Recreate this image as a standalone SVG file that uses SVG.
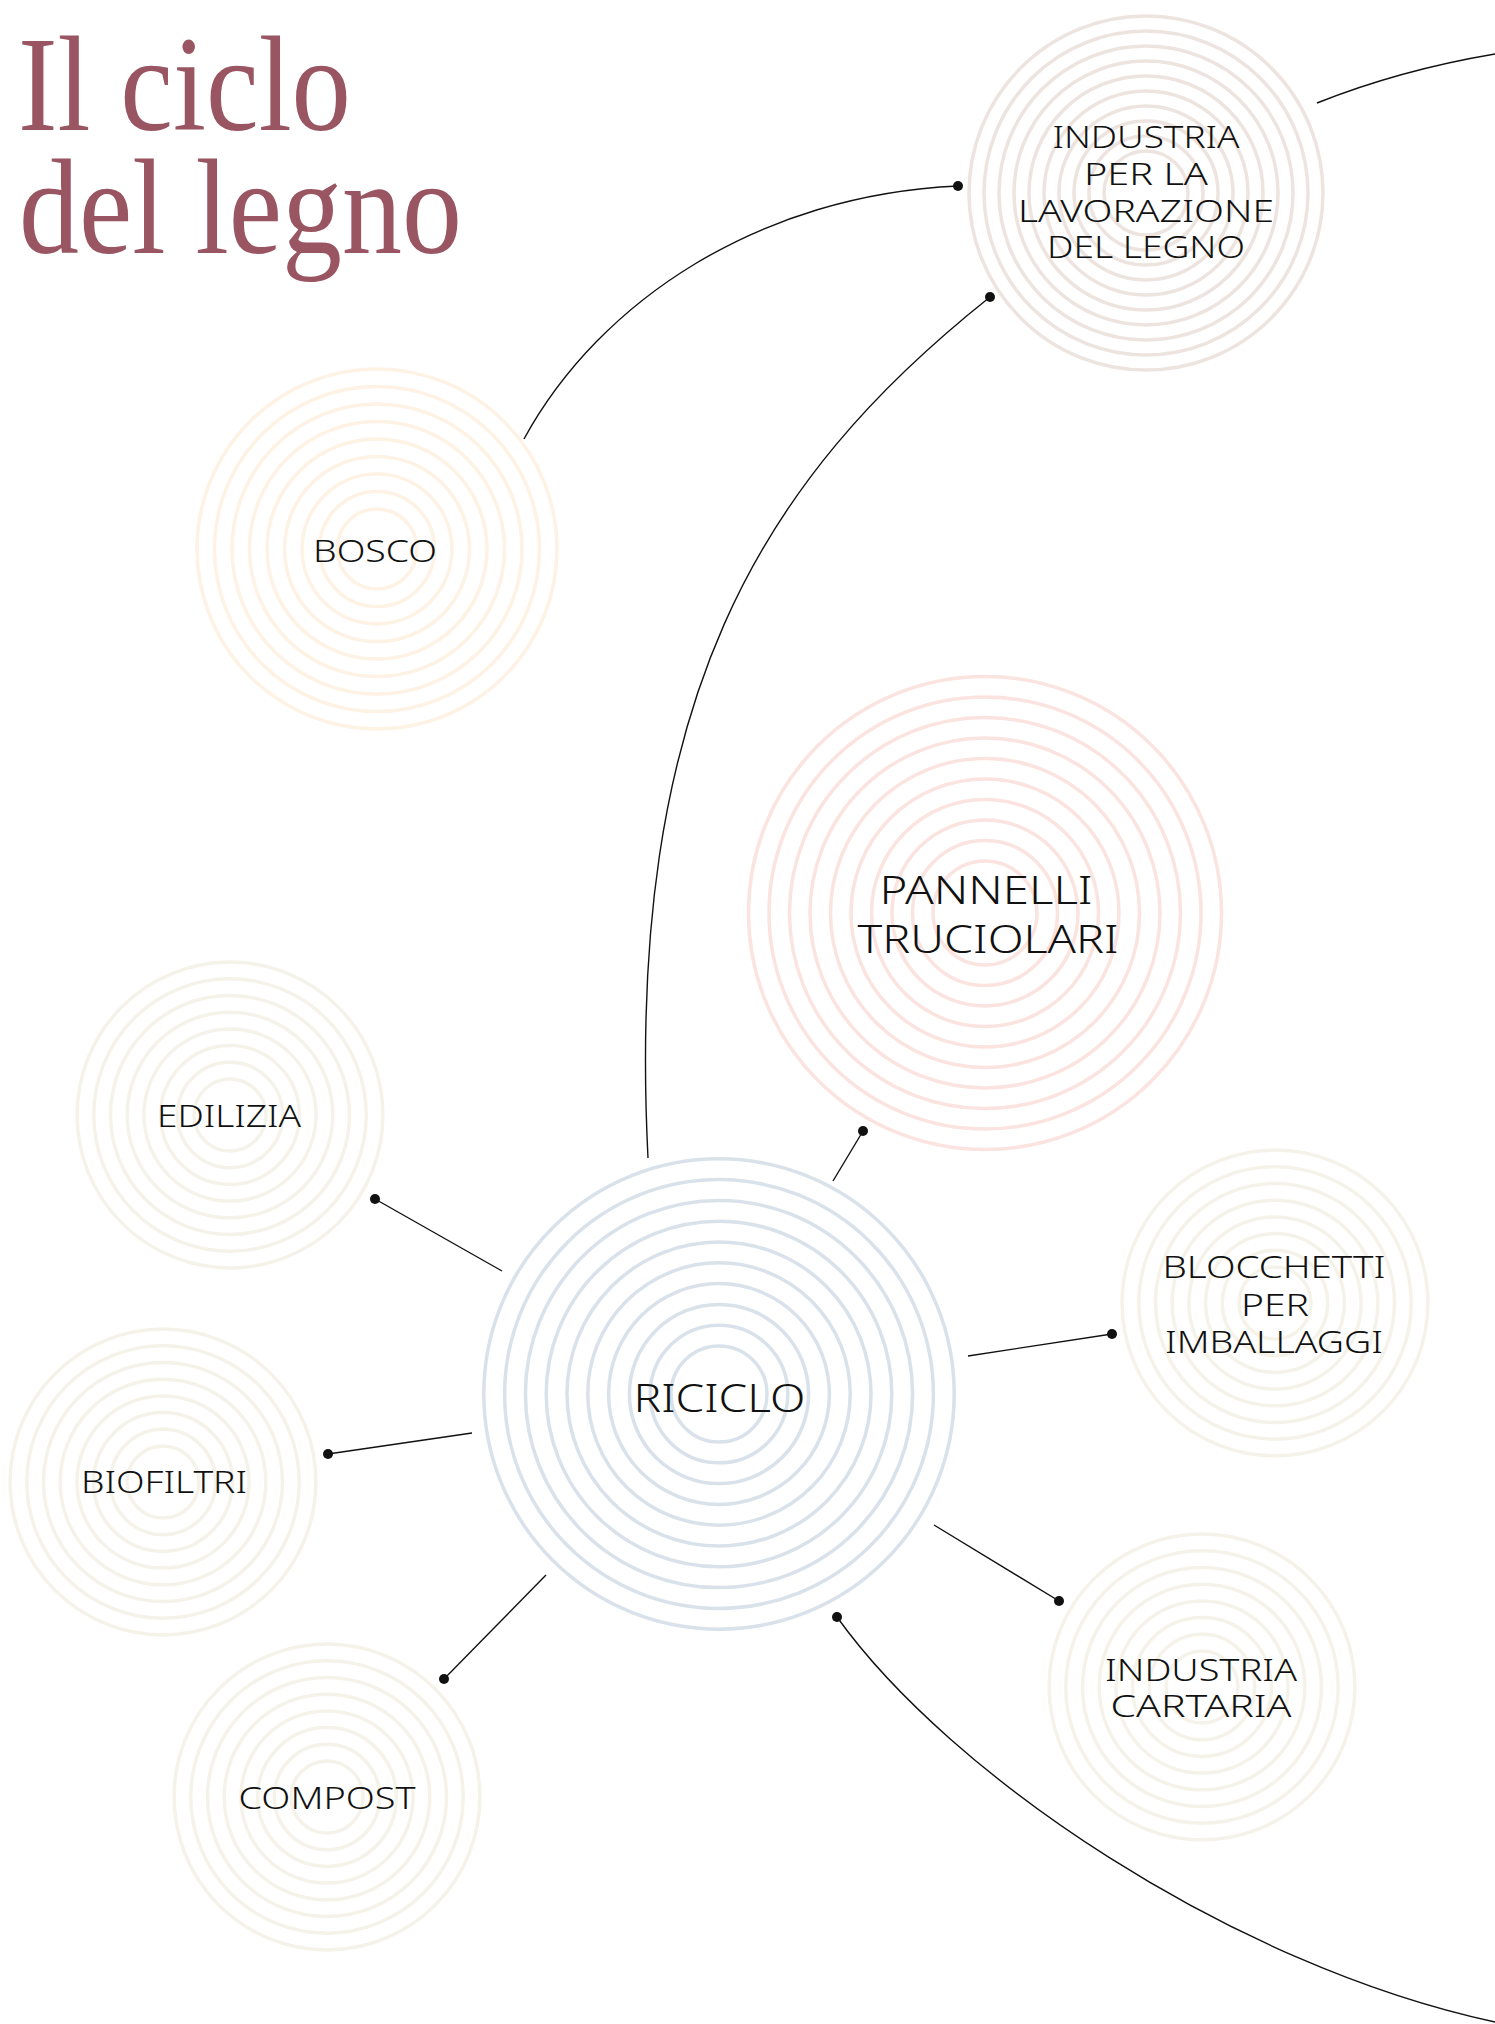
<svg xmlns="http://www.w3.org/2000/svg" xmlns:xlink="http://www.w3.org/1999/xlink" width="1495" height="2024" viewBox="0 0 1495 2024">
<style>
  .ring { fill: none; stroke-width: 3.5; }
  .r-ind { stroke: #ede4e0; }
  .r-bosco { stroke: #fdf2e4; }
  .r-pan { stroke: #fbe3df; }
  .r-ric { stroke: #d9e2ea; }
  .r-beige { stroke: #f5f3e9; }
  .lbl { font-family: "Noto Sans", "Open Sans", sans-serif; font-weight: 300; fill: #111111; text-anchor: middle; font-size: 31px; }
  .lbl-big { font-size: 39px; }
  .title { font-family: "Liberation Serif", "Times New Roman", serif; fill: #9a5563; font-size: 136px; }
  .conn { fill: none; stroke: #111111; stroke-width: 1.4; }
  .dot { fill: #111111; }
</style>
<defs>
  <g id="rings-ind">
    <circle r="42"/><circle r="57"/><circle r="72"/><circle r="87"/><circle r="102"/><circle r="117"/><circle r="132"/><circle r="147"/><circle r="162"/><circle r="177"/>
  </g>
  <g id="rings-bosco">
    <circle r="40"/><circle r="57.5"/><circle r="75"/><circle r="92.5"/><circle r="110"/><circle r="127.5"/><circle r="145"/><circle r="162.5"/><circle r="180"/>
  </g>
  <g id="rings-pan">
    <circle r="52"/><circle r="72.5"/><circle r="93"/><circle r="113.5"/><circle r="134"/><circle r="154.5"/><circle r="175"/><circle r="195.5"/><circle r="216"/><circle r="236.5"/>
  </g>
  <g id="rings-ric">
    <circle r="48"/><circle r="68.8"/><circle r="89.6"/><circle r="110.4"/><circle r="131.2"/><circle r="152"/><circle r="172.8"/><circle r="193.6"/><circle r="214.4"/><circle r="235.2"/>
  </g>
  <g id="rings-small">
    <circle r="36"/><circle r="52.7"/><circle r="69.4"/><circle r="86.1"/><circle r="102.8"/><circle r="119.5"/><circle r="136.2"/><circle r="152.9"/>
  </g>
</defs>
<rect width="1495" height="2024" fill="#ffffff"/>

<g id="title">
  <text class="title" x="18" y="130" textLength="333" lengthAdjust="spacingAndGlyphs">Il ciclo</text>
  <text class="title" x="19" y="253" textLength="443" lengthAdjust="spacingAndGlyphs">del legno</text>
</g>

<g id="connectors">
  <path class="conn" d="M 1317 103 Q 1400 70 1495 54"/>
  <path class="conn" d="M 524 439 C 600 300 760 195 958 186"/>
  <circle class="dot" cx="958" cy="186" r="5"/>
  <path class="conn" d="M 648 1158 C 625 700 760 480 990 297"/>
  <circle class="dot" cx="990" cy="297" r="5"/>
  <path class="conn" d="M 837 1617 C 950 1775 1230 1965 1495 2022"/>
  <circle class="dot" cx="837" cy="1617" r="5"/>
  <line class="conn" x1="833" y1="1181" x2="863" y2="1131"/>
  <circle class="dot" cx="863" cy="1131" r="5"/>
  <line class="conn" x1="502" y1="1271" x2="375" y2="1199"/>
  <circle class="dot" cx="375" cy="1199" r="5"/>
  <line class="conn" x1="472" y1="1433" x2="328" y2="1454"/>
  <circle class="dot" cx="328" cy="1454" r="5"/>
  <line class="conn" x1="546" y1="1575" x2="444" y2="1679"/>
  <circle class="dot" cx="444" cy="1679" r="5"/>
  <line class="conn" x1="968" y1="1356" x2="1112" y2="1334"/>
  <circle class="dot" cx="1112" cy="1334" r="5"/>
  <line class="conn" x1="934" y1="1525" x2="1059" y2="1601"/>
  <circle class="dot" cx="1059" cy="1601" r="5"/>
</g>

<g id="node-industria">
  <use xlink:href="#rings-ind" href="#rings-ind" class="ring r-ind" x="1146" y="193"/>
  <text class="lbl" x="1146" y="148" textLength="187" lengthAdjust="spacingAndGlyphs">INDUSTRIA</text>
  <text class="lbl" x="1146" y="185" textLength="124" lengthAdjust="spacingAndGlyphs">PER LA</text>
  <text class="lbl" x="1146" y="222" textLength="256" lengthAdjust="spacingAndGlyphs">LAVORAZIONE</text>
  <text class="lbl" x="1146" y="258" textLength="198" lengthAdjust="spacingAndGlyphs">DEL LEGNO</text>
</g>

<g id="node-bosco">
  <use xlink:href="#rings-bosco" href="#rings-bosco" class="ring r-bosco" x="377" y="549"/>
  <text class="lbl" x="375" y="562" textLength="124" lengthAdjust="spacingAndGlyphs">BOSCO</text>
</g>

<g id="node-pannelli">
  <use xlink:href="#rings-pan" href="#rings-pan" class="ring r-pan" x="985" y="913"/>
  <text class="lbl lbl-big" x="986" y="904" textLength="213" lengthAdjust="spacingAndGlyphs">PANNELLI</text>
  <text class="lbl lbl-big" x="988" y="953" textLength="261" lengthAdjust="spacingAndGlyphs">TRUCIOLARI</text>
</g>

<g id="node-riciclo">
  <use xlink:href="#rings-ric" href="#rings-ric" class="ring r-ric" x="719" y="1394"/>
  <text class="lbl lbl-big" x="719.5" y="1412" textLength="172" lengthAdjust="spacingAndGlyphs">RICICLO</text>
</g>

<g id="node-edilizia">
  <use xlink:href="#rings-small" href="#rings-small" class="ring r-beige" x="230" y="1115"/>
  <text class="lbl" x="229" y="1127" textLength="144" lengthAdjust="spacingAndGlyphs">EDILIZIA</text>
</g>

<g id="node-biofiltri">
  <use xlink:href="#rings-small" href="#rings-small" class="ring r-beige" x="163" y="1482"/>
  <text class="lbl" x="164" y="1493" textLength="166" lengthAdjust="spacingAndGlyphs">BIOFILTRI</text>
</g>

<g id="node-compost">
  <use xlink:href="#rings-small" href="#rings-small" class="ring r-beige" x="327" y="1797"/>
  <text class="lbl" x="327" y="1809" textLength="177" lengthAdjust="spacingAndGlyphs">COMPOST</text>
</g>

<g id="node-blocchetti">
  <use xlink:href="#rings-small" href="#rings-small" class="ring r-beige" x="1275" y="1303"/>
  <text class="lbl" x="1274" y="1278" textLength="223" lengthAdjust="spacingAndGlyphs">BLOCCHETTI</text>
  <text class="lbl" x="1275" y="1316" textLength="68" lengthAdjust="spacingAndGlyphs">PER</text>
  <text class="lbl" x="1274" y="1353" textLength="218" lengthAdjust="spacingAndGlyphs">IMBALLAGGI</text>
</g>

<g id="node-cartaria">
  <use xlink:href="#rings-small" href="#rings-small" class="ring r-beige" x="1202" y="1687"/>
  <text class="lbl" x="1201" y="1681" textLength="192" lengthAdjust="spacingAndGlyphs">INDUSTRIA</text>
  <text class="lbl" x="1201" y="1717" textLength="181" lengthAdjust="spacingAndGlyphs">CARTARIA</text>
</g>
</svg>
